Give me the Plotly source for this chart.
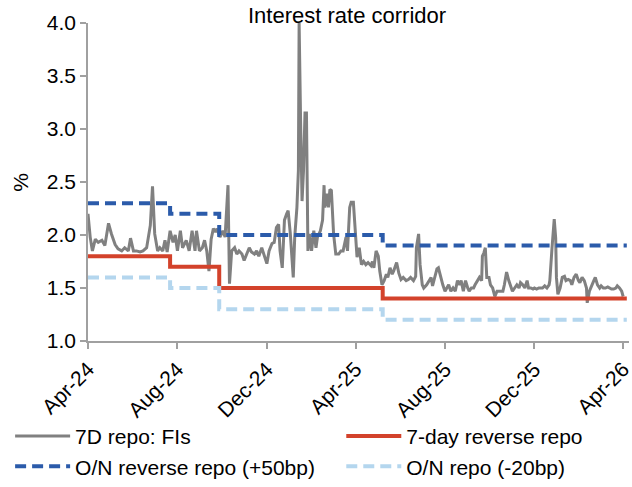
import plotly.graph_objects as go

# Policy corridor (step changes on PBoC decision dates)
policy_dates = ["2024-04-01", "2024-07-22", "2024-09-27", "2025-05-08", "2026-04-06"]
reverse_repo_7d = [1.8, 1.7, 1.5, 1.4, 1.4]
on_reverse_repo = [2.3, 2.2, 2.0, 1.9, 1.9]
on_repo = [1.6, 1.5, 1.3, 1.2, 1.2]

# 7-day interbank repo rate for financial institutions (%)
fi_repo = [
    ("2024-04-01", 2.20), ("2024-04-04", 1.98), ("2024-04-07", 1.85), ("2024-04-11", 1.96),
    ("2024-04-15", 1.93), ("2024-04-20", 1.95), ("2024-04-24", 1.90), ("2024-04-29", 2.11),
    ("2024-05-03", 2.01), ("2024-05-08", 1.91), ("2024-05-12", 1.87), ("2024-05-17", 1.85),
    ("2024-05-21", 1.88), ("2024-05-26", 1.85), ("2024-05-29", 1.97), ("2024-06-02", 1.85),
    ("2024-06-06", 1.85), ("2024-06-11", 1.84), ("2024-06-15", 1.85), ("2024-06-20", 1.88),
    ("2024-06-25", 2.09), ("2024-06-28", 2.46), ("2024-07-01", 2.01), ("2024-07-05", 1.85),
    ("2024-07-08", 1.88), ("2024-07-12", 1.85), ("2024-07-15", 1.95), ("2024-07-18", 1.84),
    ("2024-07-22", 2.04), ("2024-07-26", 1.93), ("2024-07-29", 2.00), ("2024-08-01", 1.85),
    ("2024-08-05", 2.04), ("2024-08-08", 1.88), ("2024-08-13", 1.95), ("2024-08-17", 1.85),
    ("2024-08-21", 2.04), ("2024-08-25", 1.85), ("2024-08-27", 2.04), ("2024-08-31", 1.85),
    ("2024-09-04", 1.88), ("2024-09-07", 1.95), ("2024-09-10", 1.85), ("2024-09-13", 1.66),
    ("2024-09-16", 1.96), ("2024-09-19", 2.06), ("2024-09-22", 2.03), ("2024-09-24", 2.06),
    ("2024-09-28", 1.98), ("2024-10-02", 2.04), ("2024-10-05", 1.98), ("2024-10-09", 2.47),
    ("2024-10-11", 1.54), ("2024-10-14", 1.85), ("2024-10-18", 1.88), ("2024-10-21", 1.82),
    ("2024-10-24", 1.85), ("2024-10-28", 1.82), ("2024-10-31", 1.76), ("2024-11-04", 1.82),
    ("2024-11-07", 1.88), ("2024-11-10", 1.84), ("2024-11-14", 1.82), ("2024-11-17", 1.85),
    ("2024-11-20", 1.80), ("2024-11-24", 1.88), ("2024-11-28", 1.79), ("2024-12-01", 1.73),
    ("2024-12-04", 1.85), ("2024-12-08", 1.92), ("2024-12-11", 1.93), ("2024-12-14", 2.07),
    ("2024-12-17", 2.10), ("2024-12-19", 1.85), ("2024-12-22", 1.69), ("2024-12-25", 2.14),
    ("2024-12-28", 2.20), ("2024-12-30", 2.23), ("2025-01-02", 2.01), ("2025-01-04", 1.76),
    ("2025-01-06", 1.60), ("2025-01-08", 1.98), ("2025-01-11", 2.26), ("2025-01-13", 2.61),
    ("2025-01-14", 4.00), ("2025-01-16", 3.08), ("2025-01-18", 2.32), ("2025-01-20", 2.61),
    ("2025-01-22", 3.15), ("2025-01-24", 3.15), ("2025-01-26", 1.85), ("2025-01-28", 2.01),
    ("2025-01-31", 1.85), ("2025-02-03", 2.04), ("2025-02-06", 1.88), ("2025-02-08", 1.98),
    ("2025-02-12", 2.04), ("2025-02-15", 2.14), ("2025-02-17", 2.47), ("2025-02-18", 2.26),
    ("2025-02-21", 2.39), ("2025-02-23", 2.26), ("2025-02-25", 2.43), ("2025-02-27", 2.42),
    ("2025-03-02", 2.01), ("2025-03-05", 1.82), ("2025-03-09", 1.82), ("2025-03-12", 1.85),
    ("2025-03-15", 1.85), ("2025-03-19", 1.98), ("2025-03-21", 1.85), ("2025-03-24", 2.26),
    ("2025-03-26", 2.31), ("2025-03-29", 2.31), ("2025-03-31", 2.10), ("2025-04-03", 1.79),
    ("2025-04-06", 1.88), ("2025-04-09", 1.72), ("2025-04-12", 1.75), ("2025-04-15", 1.72),
    ("2025-04-18", 1.74), ("2025-04-22", 1.71), ("2025-04-24", 1.75), ("2025-04-26", 1.69),
    ("2025-04-29", 1.85), ("2025-05-02", 1.80), ("2025-05-04", 1.66), ("2025-05-07", 1.53),
    ("2025-05-10", 1.57), ("2025-05-13", 1.63), ("2025-05-15", 1.60), ("2025-05-18", 1.69),
    ("2025-05-21", 1.63), ("2025-05-23", 1.66), ("2025-05-27", 1.74), ("2025-05-30", 1.64),
    ("2025-06-02", 1.58), ("2025-06-05", 1.60), ("2025-06-09", 1.57), ("2025-06-12", 1.58),
    ("2025-06-15", 1.60), ("2025-06-19", 1.57), ("2025-06-22", 1.61), ("2025-06-23", 1.88),
    ("2025-06-26", 2.01), ("2025-06-28", 1.72), ("2025-07-01", 1.53), ("2025-07-03", 1.50),
    ("2025-07-07", 1.53), ("2025-07-10", 1.57), ("2025-07-13", 1.60), ("2025-07-15", 1.52),
    ("2025-07-18", 1.60), ("2025-07-21", 1.68), ("2025-07-23", 1.69), ("2025-07-26", 1.60),
    ("2025-07-29", 1.53), ("2025-08-01", 1.47), ("2025-08-03", 1.50), ("2025-08-06", 1.53),
    ("2025-08-09", 1.47), ("2025-08-12", 1.50), ("2025-08-15", 1.47), ("2025-08-18", 1.57),
    ("2025-08-21", 1.53), ("2025-08-23", 1.57), ("2025-08-26", 1.47), ("2025-08-29", 1.57),
    ("2025-09-01", 1.50), ("2025-09-03", 1.47), ("2025-09-06", 1.50), ("2025-09-09", 1.50),
    ("2025-09-11", 1.53), ("2025-09-14", 1.57), ("2025-09-17", 1.60), ("2025-09-20", 1.57),
    ("2025-09-21", 1.80), ("2025-09-23", 1.83), ("2025-09-25", 1.88), ("2025-09-27", 1.60),
    ("2025-09-30", 1.60), ("2025-10-02", 1.53), ("2025-10-05", 1.50), ("2025-10-08", 1.42),
    ("2025-10-11", 1.47), ("2025-10-13", 1.47), ("2025-10-16", 1.47), ("2025-10-19", 1.47),
    ("2025-10-21", 1.53), ("2025-10-24", 1.65), ("2025-10-27", 1.57), ("2025-10-30", 1.50),
    ("2025-11-01", 1.47), ("2025-11-04", 1.50), ("2025-11-07", 1.53), ("2025-11-10", 1.50),
    ("2025-11-12", 1.55), ("2025-11-15", 1.53), ("2025-11-18", 1.50), ("2025-11-21", 1.57),
    ("2025-11-23", 1.50), ("2025-11-26", 1.50), ("2025-11-29", 1.49), ("2025-12-01", 1.50),
    ("2025-12-04", 1.49), ("2025-12-07", 1.50), ("2025-12-10", 1.50), ("2025-12-12", 1.50),
    ("2025-12-15", 1.52), ("2025-12-18", 1.50), ("2025-12-21", 1.53), ("2025-12-22", 1.57),
    ("2025-12-25", 1.88), ("2025-12-28", 2.15), ("2025-12-30", 1.97), ("2025-12-31", 1.60),
    ("2026-01-02", 1.44), ("2026-01-05", 1.50), ("2026-01-08", 1.60), ("2026-01-11", 1.61),
    ("2026-01-13", 1.57), ("2026-01-16", 1.58), ("2026-01-19", 1.57), ("2026-01-21", 1.53),
    ("2026-01-24", 1.60), ("2026-01-27", 1.63), ("2026-01-30", 1.57), ("2026-02-01", 1.55),
    ("2026-02-04", 1.60), ("2026-02-07", 1.57), ("2026-02-10", 1.50), ("2026-02-11", 1.36),
    ("2026-02-14", 1.47), ("2026-02-17", 1.53), ("2026-02-20", 1.57), ("2026-02-22", 1.60),
    ("2026-02-25", 1.53), ("2026-02-28", 1.50), ("2026-03-02", 1.52), ("2026-03-05", 1.50),
    ("2026-03-08", 1.50), ("2026-03-11", 1.51), ("2026-03-13", 1.50), ("2026-03-16", 1.49),
    ("2026-03-19", 1.49), ("2026-03-22", 1.50), ("2026-03-24", 1.52), ("2026-03-27", 1.50),
    ("2026-03-30", 1.47), ("2026-04-01", 1.42),
]
fi_repo_dates = [d for d, _ in fi_repo]
fi_repo_rates = [v for _, v in fi_repo]

x_ticks = ["2024-04-01", "2024-08-01", "2024-12-01", "2025-04-01",
           "2025-08-01", "2025-12-01", "2026-04-01"]
y_ticks = [1.0, 1.5, 2.0, 2.5, 3.0, 3.5, 4.0]

FONT = "Liberation Sans, Arial, sans-serif"
GREY = "rgb(128,128,128)"
RED = "rgb(211,66,43)"
NAVY = "rgb(43,91,170)"
SKY = "rgb(180,214,238)"
AXIS = "rgb(160,160,160)"

fig = go.Figure()
fig.add_trace(go.Scatter(x=fi_repo_dates, y=fi_repo_rates, mode="lines",
                         name="7D repo: FIs", legend="legend",
                         line=dict(color=GREY, width=3)))
fig.add_trace(go.Scatter(x=policy_dates, y=reverse_repo_7d, mode="lines",
                         name="7-day reverse repo", legend="legend2",
                         line=dict(color=RED, width=4, shape="hv")))
fig.add_trace(go.Scatter(x=policy_dates, y=on_reverse_repo, mode="lines",
                         name="O/N reverse repo (+50bp)", legend="legend",
                         line=dict(color=NAVY, width=4, shape="hv", dash="11px,6px")))
fig.add_trace(go.Scatter(x=policy_dates, y=on_repo, mode="lines",
                         name="O/N repo (-20bp)", legend="legend2",
                         line=dict(color=SKY, width=4, shape="hv", dash="11px,6px")))

# Two legend columns, each a vertical stack of two entries
legend_style = dict(orientation="v", xref="container", yref="container",
                    xanchor="left", y=0.146, yanchor="top",
                    itemwidth=55, tracegroupgap=0, bgcolor="rgba(0,0,0,0)",
                    font=dict(family=FONT, size=21, color="black"))

fig.update_layout(
    width=632, height=487,
    margin=dict(l=88, r=3, t=23, b=146, autoexpand=False),
    paper_bgcolor="white", plot_bgcolor="white",
    font=dict(family=FONT, size=21, color="black"),
    showlegend=True,
    legend=dict(x=0.016, **legend_style),
    legend2=dict(x=0.540, **legend_style),
    annotations=[
        dict(text="Interest rate corridor", xref="paper", yref="paper",
             x=0.479, y=1.024, xanchor="center", yanchor="middle",
             showarrow=False, font=dict(family=FONT, size=22, color="black")),
        dict(text="%", xref="paper", yref="paper", x=-0.126, y=0.5,
             xanchor="center", yanchor="middle", textangle=-90,
             showarrow=False, font=dict(family=FONT, size=21, color="black")),
    ],
)
fig.update_xaxes(type="date", range=["2024-04-01", "2026-04-09"],
                 tickvals=x_ticks, tickformat="%b-%y", tickangle=-45,
                 ticklabeloverflow="allow", automargin=False,
                 showline=True, linecolor=AXIS, linewidth=1.5,
                 ticks="outside", ticklen=6, tickcolor=AXIS, tickwidth=1.5,
                 showgrid=False, zeroline=False,
                 tickfont=dict(family=FONT, size=21, color="black"))
fig.update_yaxes(range=[1.0, 4.0], tickvals=y_ticks, tickformat=".1f",
                 automargin=False,
                 showline=True, linecolor=AXIS, linewidth=1.5,
                 ticks="outside", ticklen=6, tickcolor=AXIS, tickwidth=1.5,
                 showgrid=False, zeroline=False,
                 tickfont=dict(family=FONT, size=21, color="black"))

fig.write_html("out.html")
